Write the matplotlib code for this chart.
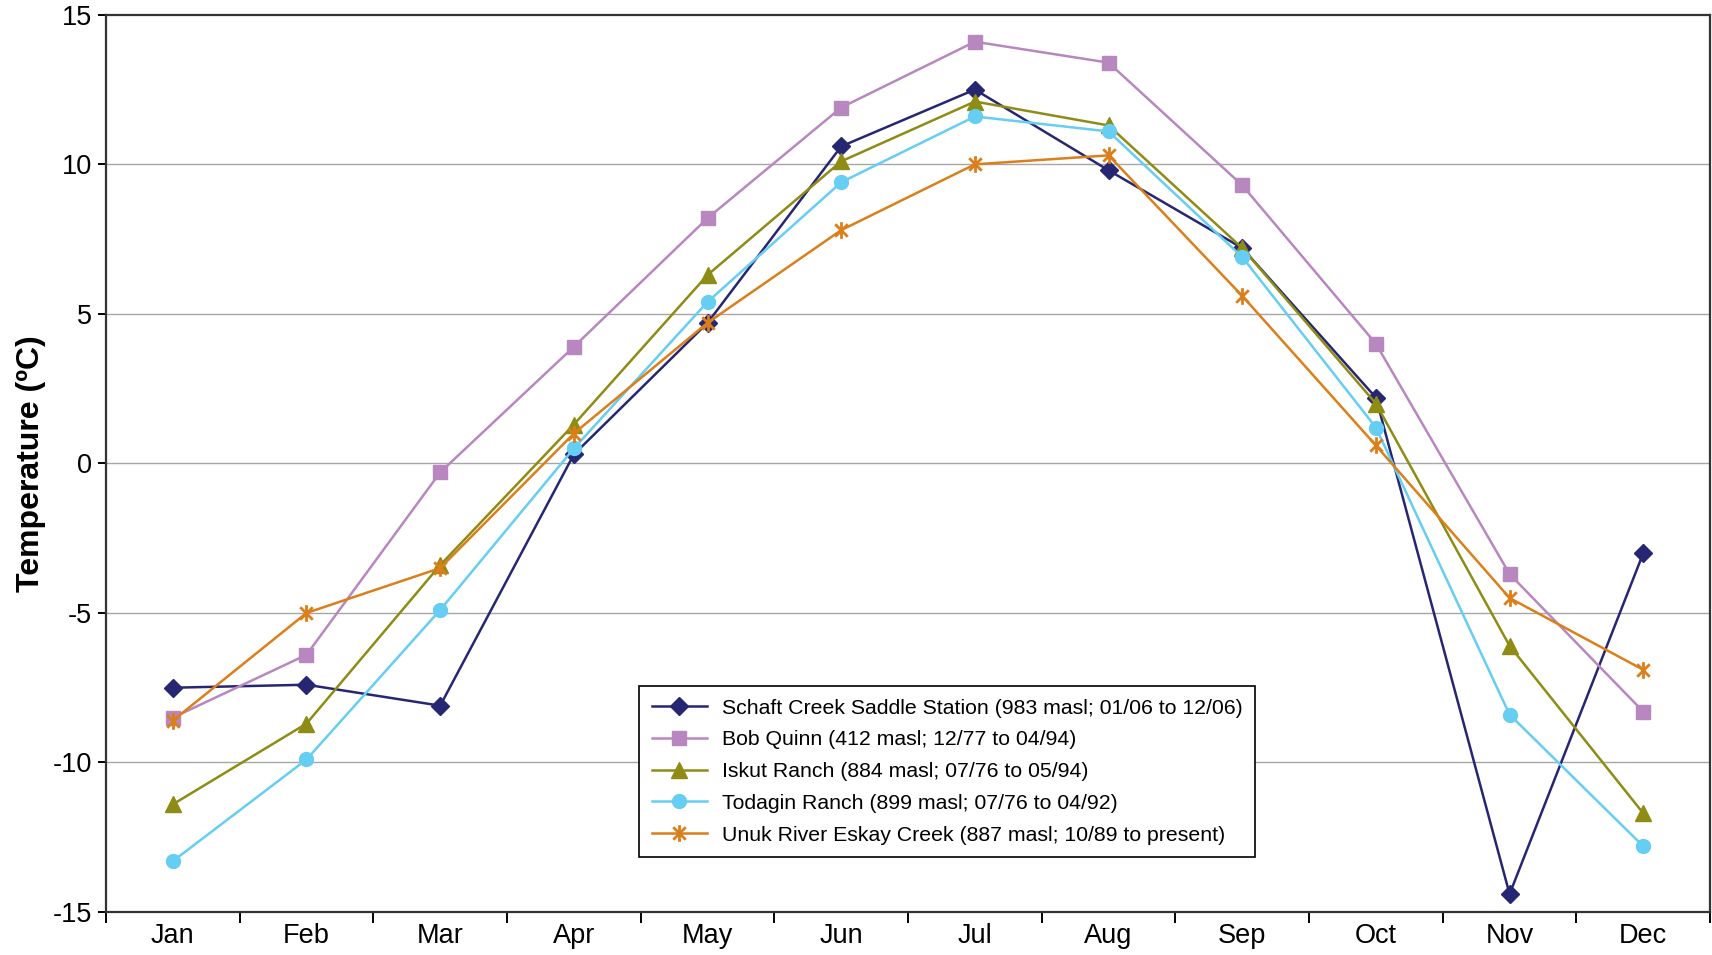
import numpy as np
import matplotlib.pyplot as plt
from matplotlib.path import Path

plt.rcParams['font.family'] = ['Liberation Sans', 'DejaVu Sans']
plt.rcParams['axes.unicode_minus'] = False

# Mean monthly temperature (ºC) at each station
months = ["Jan", "Feb", "Mar", "Apr", "May", "Jun",
          "Jul", "Aug", "Sep", "Oct", "Nov", "Dec"]

schaft_creek = [-7.5, -7.4, -8.1, 0.3, 4.7, 10.6, 12.5, 9.8, 7.2, 2.2, -14.4, -3.0]
bob_quinn = [-8.5, -6.4, -0.3, 3.9, 8.2, 11.9, 14.1, 13.4, 9.3, 4.0, -3.7, -8.3]
iskut_ranch = [-11.4, -8.7, -3.4, 1.3, 6.3, 10.1, 12.1, 11.3, 7.2, 2.0, -6.1, -11.7]
todagin_ranch = [-13.3, -9.9, -4.9, 0.5, 5.4, 9.4, 11.6, 11.1, 6.9, 1.2, -8.4, -12.8]
unuk_river = [-8.6, -5.0, -3.5, 1.0, 4.7, 7.8, 10.0, 10.3, 5.6, 0.6, -4.5, -6.9]

labels = [
    "Schaft Creek Saddle Station (983 masl; 01/06 to 12/06)",
    "Bob Quinn (412 masl; 12/77 to 04/94)",
    "Iskut Ranch (884 masl; 07/76 to 05/94)",
    "Todagin Ranch (899 masl; 07/76 to 04/92)",
    "Unuk River Eskay Creek (887 masl; 10/89 to present)",
]

# asterisk marker: vertical bar plus an X
star = Path([(0, -1), (0, 1), (-0.75, -0.75), (0.75, 0.75), (-0.75, 0.75), (0.75, -0.75)],
            [Path.MOVETO, Path.LINETO, Path.MOVETO, Path.LINETO, Path.MOVETO, Path.LINETO])

styles = [
    dict(color="#262673", marker="D", ms=9),
    dict(color="#B987C0", marker="s", ms=10),
    dict(color="#8E8C14", marker="^", ms=11),
    dict(color="#66CDF3", marker="o", ms=10),
    dict(color="#DB7F1A", marker=star, ms=12, mew=2),
]

fig = plt.figure(figsize=(17.12, 9.55), dpi=100)
ax = fig.add_axes([0.0619, 0.045, 0.937, 0.9395])

x = np.arange(len(months))
for series, label, st in zip([schaft_creek, bob_quinn, iskut_ranch, todagin_ranch, unuk_river],
                             labels, styles):
    ax.plot(x, series, lw=1.8, label=label, **st)

ax.set_xlim(-0.5, 11.5)
ax.set_ylim(-15, 15)
ax.set_yticks(np.arange(-15, 16, 5))
ax.tick_params(axis='y', labelsize=19.5, length=6, width=1.4, direction='out', pad=4)

# category labels centered between boundary ticks
ax.set_xticks(np.arange(-0.5, 12, 1))
ax.set_xticklabels([])
ax.set_xticks(x, minor=True)
ax.set_xticklabels(months, minor=True, fontsize=19.5)
ax.tick_params(axis='x', which='major', length=8, width=1.4)
ax.tick_params(axis='x', which='minor', length=0, pad=8)

for y in [-10, -5, 0, 5, 10]:
    ax.axhline(y, color="#A6A6A6", lw=1, zorder=0)

for sp in ax.spines.values():
    sp.set_color("#333333")
    sp.set_linewidth(1.6)

ax.set_ylabel("Temperature (ºC)", fontsize=23, fontweight='bold')
ax.yaxis.set_label_coords(-0.0376, 0.5)

leg = ax.legend(loc='lower left', bbox_to_anchor=(0.3322, 0.0609), borderaxespad=0,
                fontsize=15.3, frameon=True, fancybox=False, framealpha=1,
                edgecolor="black", handlelength=2.6, handletextpad=0.7,
                borderpad=0.6, labelspacing=0.6)
leg.get_frame().set_linewidth(1.2)

plt.savefig("out.png", dpi=100)
